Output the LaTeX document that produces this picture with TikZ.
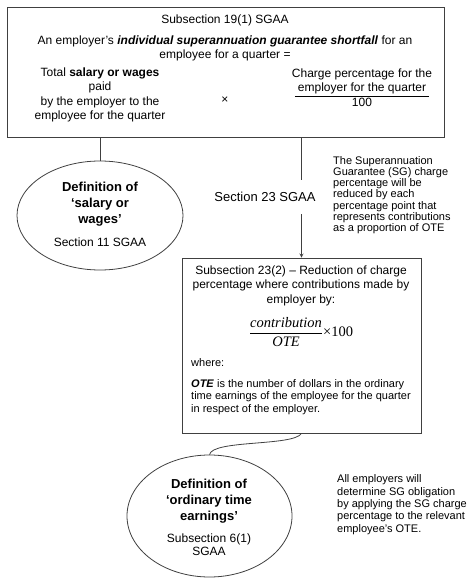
\documentclass[tikz,border=0pt]{standalone}
\usepackage{fontspec}
\setmainfont{Liberation Sans}
\newfontfamily\timesfont{Liberation Serif}
\usepackage{amsmath}
\usetikzlibrary{shapes.geometric}

\tikzset{
  sgline/.style={draw=black!75,line width=0.8pt},
  lawbox/.style={sgline,rectangle,inner sep=0pt},
  defellipse/.style={sgline,ellipse,inner sep=0pt},
  sgtext/.style={inner sep=0pt,align=center,font=\fontsize{12}{14.5}\selectfont},
  notetext/.style={inner sep=0pt,align=left,anchor=west,font=\fontsize{11}{11.2}\selectfont},
  deftitle/.style={inner sep=0pt,align=center,font=\bfseries\fontsize{13}{16}\selectfont},
}

\begin{document}
\begin{tikzpicture}[x=1pt,y=-1pt]
	\useasboundingbox (0,0) rectangle (474,583);
	
	%boxes
	\node[lawbox,minimum width=437,minimum height=130] (shortfall) at (225.5,72) {};
	\node[lawbox,minimum width=239,minimum height=175] (reduction) at (301.5,345.5) {};
	%ellipses
	\node[defellipse,minimum width=166,minimum height=109] (salary) at (100,215.5) {};
	\node[defellipse,minimum width=165,minimum height=122] (ote) at (209.5,516) {};
	
	%top box
	\node[sgtext] (sub19) at (225,20) {Subsection 19(1) SGAA};
	\node[sgtext,font=\fontsize{12}{13.3}\selectfont] (sgshort) at (225,48.5) {An employer's \textbf{\textit{individual superannuation guarantee shortfall}} for an\\employee for a quarter =};
	\node[sgtext] (wages) at (100,95) {Total \textbf{salary or wages}\\paid\\by the employer to the\\employee for the quarter};
	\node[sgtext] (times) at (225,100) {×};
	\node[sgtext] (charge) at (362,87.5) {Charge percentage for the\\\underline{\hspace{3pt}employer for the quarter\hspace{3pt}}\\100};
	
	%reduction box
	\node[sgtext] (sub23) at (301,285.5) {Subsection 23(2) – Reduction of charge\\percentage where contributions made by\\employer by:};
	\node[inner sep=0pt,font=\fontsize{14.5}{16}\timesfont] (contrib) at (301,332) {$\dfrac{\text{\itshape contribution}}{\text{\itshape OTE}}$×100};
	\node[notetext] (where) at (191,363) {where:};
	\node[notetext,font=\fontsize{11}{12.2}\selectfont] (otedef) at (191,397) {\textbf{\textit{OTE}} is the number of dollars in the ordinary\\time earnings of the employee for the quarter\\in respect of the employer.};
	
	%ellipse texts
	\node[deftitle] (salarytitle) at (100,204) {Definition of\\‘salary or\\wages’};
	\node[sgtext] (salaryref) at (100,242) {Section 11 SGAA};
	\node[deftitle] (otetitle) at (209,501) {Definition of\\‘ordinary time\\earnings’};
	\node[sgtext,font=\fontsize{12}{13.3}\selectfont] (oteref) at (209,544.5) {Subsection 6(1)\\SGAA};
	
	%notes
	\node[notetext] (sgnote) at (333,195) {The Superannuation\\Guarantee (SG) charge\\percentage will be\\reduced by each\\percentage point that\\represents contributions\\as a proportion of OTE};
	\node[notetext,font=\fontsize{11}{12.3}\selectfont] (allnote) at (337,504.7) {All employers will\\determine SG obligation\\by applying the SG charge\\percentage to the relevant\\employee's OTE.};
	
	%connectors
	\draw[sgline] (shortfall.south -| salary.north) -- (salary.north);
	\draw[sgline,-stealth] (shortfall.south -| reduction.north) -- (reduction.north);
	\node[fill=white,inner xsep=2pt,inner ysep=12pt,font=\fontsize{13}{15}\selectfont] (sec23) at (265,197) {Section 23 SGAA};
	\draw[sgline] (reduction.south) .. controls +(-8,13) and +(3,-15) .. (ote.north);
\end{tikzpicture}
\end{document}
